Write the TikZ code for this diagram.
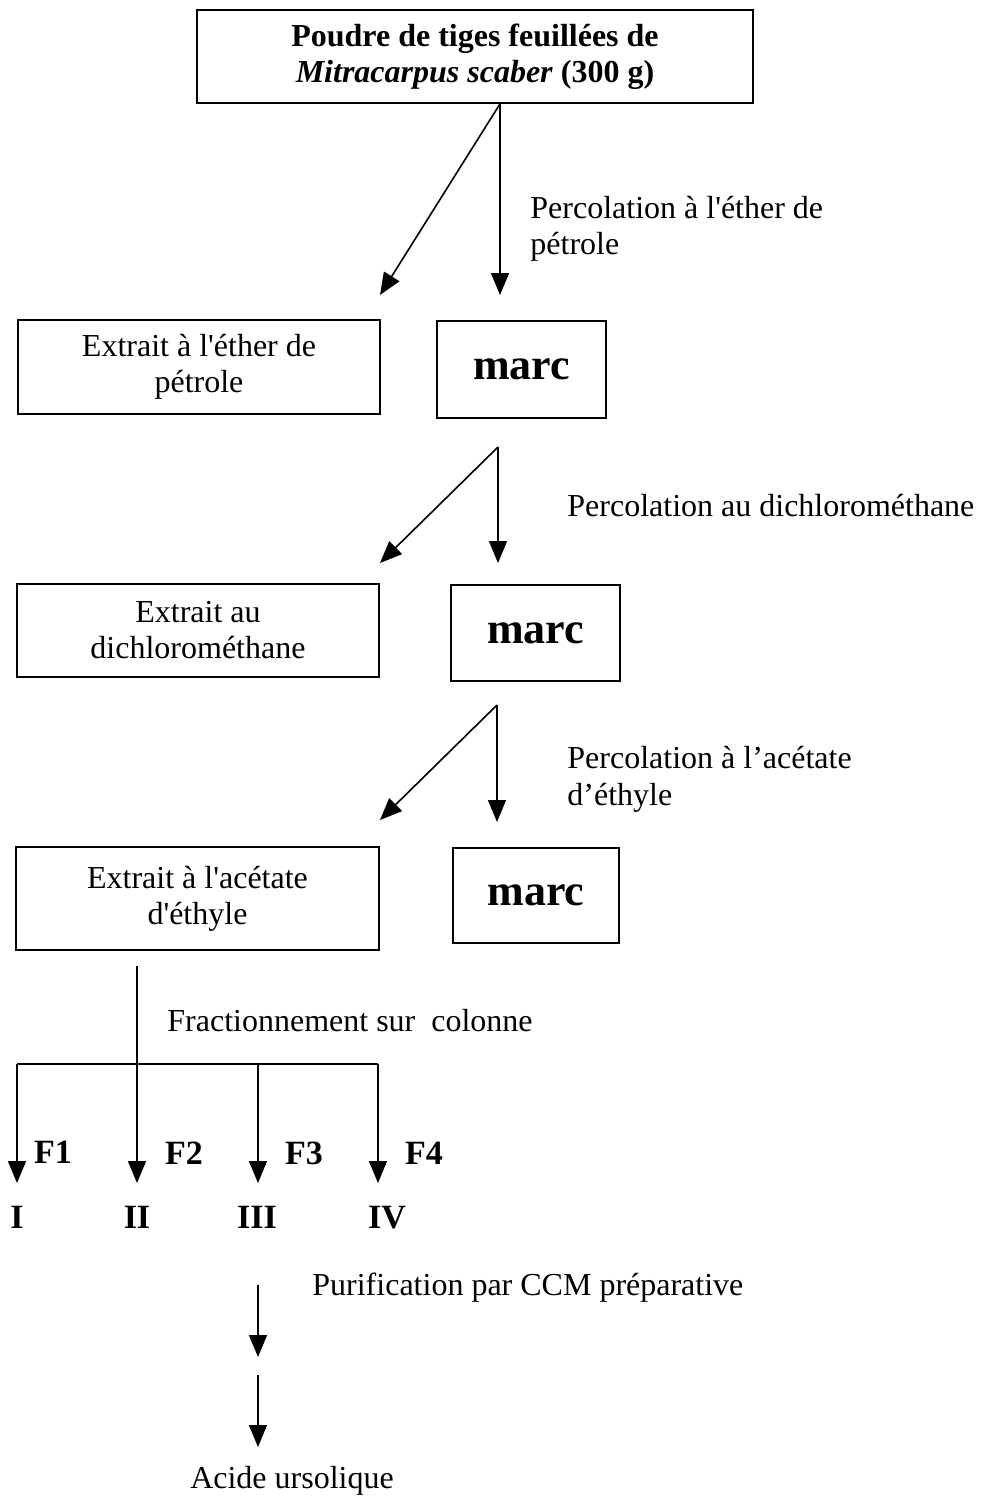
\documentclass[tikz,border=0pt]{standalone}
\usepackage{fontspec}
\setmainfont{Liberation Serif}
\usetikzlibrary{arrows.meta}
\newcommand{\sq}{\textquotesingle}
\begin{document}
\begin{tikzpicture}[x=0.5pt,y=-0.5pt,
  box/.style={draw,line width=0.9pt,inner sep=0pt,align=center,font=\fontsize{16}{18}\selectfont},
  marcbox/.style={draw,line width=0.9pt,inner sep=0pt,font=\fontsize{22}{24}\selectfont\bfseries},
  lbl/.style={inner sep=0pt,anchor=base west,font=\fontsize{16}{18}\selectfont},
  arr/.style={line width=0.8pt,-{Triangle[width=9pt,length=11pt]}},
  ln/.style={line width=0.8pt},
  frac/.style={inner sep=0pt,anchor=base,font=\fontsize{17}{19}\selectfont\bfseries}]
\useasboundingbox (0,0) rectangle (987,1496);

% boxes
\node[box,minimum width=278pt,minimum height=46.5pt,font=\fontsize{16}{18}\selectfont\bfseries] (src) at (475,56.5)
  {Poudre de tiges feuillées de\\\textit{Mitracarpus scaber} (300 g)};
\node[box,minimum width=181pt,minimum height=47pt] (ep) at (199,367) {Extrait à l\sq éther de\\pétrole};
\node[marcbox,minimum width=84.5pt,minimum height=48.5pt] (m1) at (521.5,369.5) {marc};
\node[box,minimum width=181pt,minimum height=46.5pt] (dc) at (198,630.5) {Extrait au\\dichlorométhane};
\node[marcbox,minimum width=84.5pt,minimum height=48pt] (m2) at (535.5,633) {marc};
\node[box,minimum width=181.5pt,minimum height=51.5pt] (ac) at (197.5,898.5) {Extrait à l\sq acétate\\d\sq éthyle};
\node[marcbox,minimum width=83pt,minimum height=47.5pt] (m3) at (536,895.5) {marc};

% step 1
\coordinate (e1a) at (380,295);
\coordinate (e1b) at (500,295);
\coordinate (s1) at (500,103);
\draw[arr] (src.south -| s1) -- (e1a);
\draw[arr] (src.south -| s1) -- (e1b);
\node[lbl] (l1a) at (530,218) {Percolation à l\sq éther de};
\node[lbl] (l1b) at (530,254) {pétrole};

% step 2
\coordinate (s2) at (498,447);
\coordinate (e2a) at (380,563);
\coordinate (e2b) at (498,563);
\draw[arr] (s2) -- (e2a);
\draw[arr] (s2) -- (e2b);
\node[lbl] (l2) at (567,516) {Percolation au dichlorométhane};

% step 3
\coordinate (s3) at (497,705);
\coordinate (e3a) at (380,820);
\coordinate (e3b) at (497,822);
\draw[arr] (s3) -- (e3a);
\draw[arr] (s3) -- (e3b);
\node[lbl] (l3a) at (567,768) {Percolation à l’acétate};
\node[lbl] (l3b) at (567,805) {d’éthyle};

% fractionation
\coordinate (c0) at (137,966);
\coordinate (c1) at (137,1064);
\coordinate (h1) at (17,1064);
\coordinate (h2) at (137,1064);
\coordinate (h3) at (258,1064);
\coordinate (h4) at (378,1064);
\coordinate (t1) at (17,1183);
\coordinate (t2) at (137,1183);
\coordinate (t3) at (258,1183);
\coordinate (t4) at (378,1183);
\draw[ln] (c0) -- (c1);
\draw[ln] (h1) -- (h4);
\draw[arr] (h1) -- (t1);
\draw[arr] (h2) -- (t2);
\draw[arr] (h3) -- (t3);
\draw[arr] (h4) -- (t4);
\node[lbl] (l4) at (167,1031) {Fractionnement sur\ \ colonne};
\node[frac] (f1) at (53,1163) {F1};
\node[frac] (f2) at (184,1164) {F2};
\node[frac] (f3) at (304,1164) {F3};
\node[frac] (f4) at (424,1164) {F4};
\node[frac] (r1) at (17,1228) {I};
\node[frac] (r2) at (137,1228) {II};
\node[frac] (r3) at (257,1228) {III};
\node[frac] (r4) at (387,1228) {IV};

% purification
\coordinate (p0) at (258,1285);
\coordinate (p1) at (258,1357);
\coordinate (p2) at (258,1375);
\coordinate (p3) at (258,1447);
\draw[arr] (p0) -- (p1);
\draw[arr] (p2) -- (p3);
\node[lbl] (l5) at (312,1295) {Purification par CCM préparative};
\node[inner sep=0pt,anchor=base,font=\fontsize{16}{18}\selectfont] (au) at (292,1488) {Acide ursolique};
\end{tikzpicture}
\end{document}
